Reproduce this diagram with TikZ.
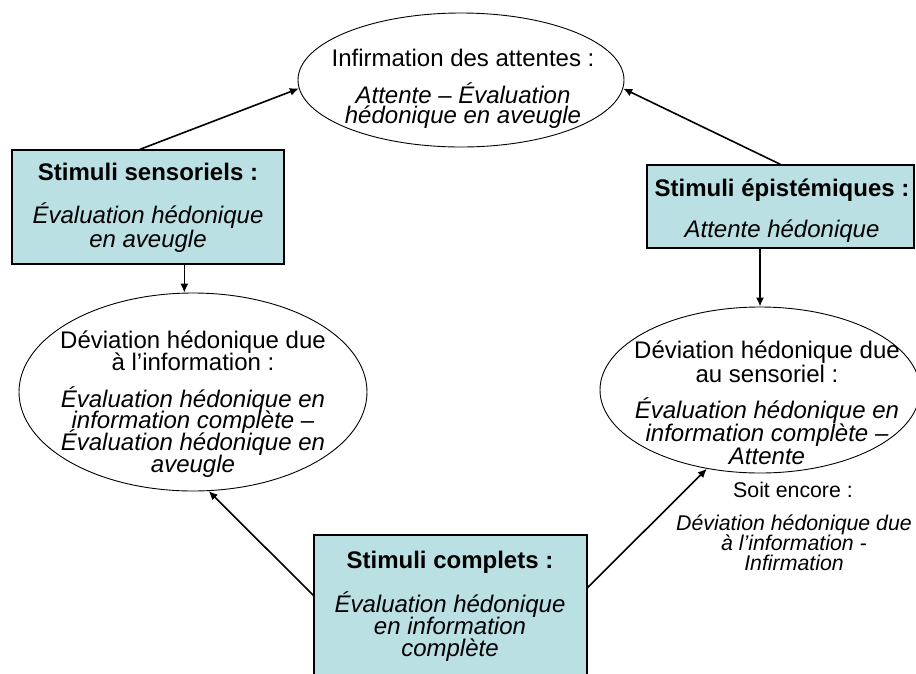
\documentclass[tikz,border=0pt]{standalone}
\usepackage{fontspec}
\setmainfont{Liberation Sans}
\usetikzlibrary{shapes.geometric,arrows.meta,calc}
\definecolor{boxfill}{RGB}{187,224,227}
\newcommand\fbig[1]{\fontsize{24}{#1}\selectfont}
\newcommand\fsmall{\fontsize{21.3}{19.7}\selectfont}
\tikzset{
  stimbox/.style={draw=black,line width=1.2pt,fill=boxfill,minimum width=#1,inner sep=0pt},
  ell/.style={draw=black,ellipse,line width=0.9pt,inner sep=0pt},
  arr/.style={draw=black,line width=1.6pt,-{Latex[length=9pt,width=8pt]}},
  ln/.style={anchor=base,inner sep=0pt,align=center,font=\fbig{#1}},
  ln/.default=22,
  lni/.style={anchor=base,inner sep=0pt,align=center,font=\fbig{#1}\itshape},
  lni/.default=22,
  lnb/.style={anchor=base,inner sep=0pt,align=center,font=\fbig{22}\bfseries},
  sm/.style={anchor=base,inner sep=0pt,align=center,font=\fsmall},
  smi/.style={anchor=base,inner sep=0pt,align=center,font=\fsmall\itshape},
}
\begin{document}
\lineskiplimit=-100pt
\begin{tikzpicture}[x=1pt,y=-1pt]
\clip (0,0) rectangle (916,673);
\fill[white] (0,0) rectangle (916,673);
% boxes
\node[stimbox=272pt,minimum height=114pt] (sens) at (148,207) {};
\node[stimbox=267pt,minimum height=83pt] (epis) at (780.5,206.5) {};
\node[stimbox=273pt,minimum height=155pt] (comp) at (450.5,612.5) {};
% ellipses
\node[ell,minimum width=326pt,minimum height=134pt] (top) at (461,80) {};
\node[ell,minimum width=348pt,minimum height=198pt] (left) at (193,392) {};
\node[ell,minimum width=320pt,minimum height=166pt] (rt) at (760,390) {};
% connectors
\draw[arr] ($(sens.north west)!0.47!(sens.north east)$) -- (top.183);
\draw[arr] (epis.north) -- (top.-3);
\draw[arr] (sens.south -| left.95) -- (left.95);
\draw[arr] (epis.south -| rt.north) -- (rt.north);
\draw[arr] ($(comp.north west)!0.39!(comp.south west)$) -- (left.-81);
\draw[arr] ($(comp.north east)!0.34!(comp.south east)$) -- (rt.-124);
% top ellipse text (base anchor = last line baseline)
\node[ln]  (t1) at (463,66.5)  {Infirmation des attentes :};
\node[lni=20.5] (t2) at (463,123.5) {Attente – Évaluation\\hédonique en aveugle};
% left box text
\node[lnb] (s1) at (148,180) {Stimuli sensoriels :};
\node[lni=24] (s2) at (148,247) {Évaluation hédonique\\en aveugle};
% right box text
\node[lnb] (e1) at (782,196) {Stimuli épistémiques :};
\node[lni] (e2) at (782,237) {Attente hédonique};
% left ellipse text
\node[ln=22]  (l1) at (193,370) {Déviation hédonique due\\à l’information :};
\node[lni=21.8] (l2) at (193,472.4) {Évaluation hédonique en\\information complète –\\Évaluation hédonique en\\aveugle};
% right ellipse text
\node[ln=24]  (r1) at (767,382) {Déviation hédonique due\\au sensoriel :};
\node[lni=23] (r2) at (767,464) {Évaluation hédonique en\\information complète –\\Attente};
% side note
\node[sm]  (n1) at (793,497) {Soit encore :};
\node[smi] (n2) at (794,570) {Déviation hédonique due\\à l’information -\\Infirmation};
% bottom box text
\node[lnb] (c1) at (450,568) {Stimuli complets :};
\node[lni=22] (c2) at (450,656) {Évaluation hédonique\\en information\\complète};
\end{tikzpicture}
\end{document}
